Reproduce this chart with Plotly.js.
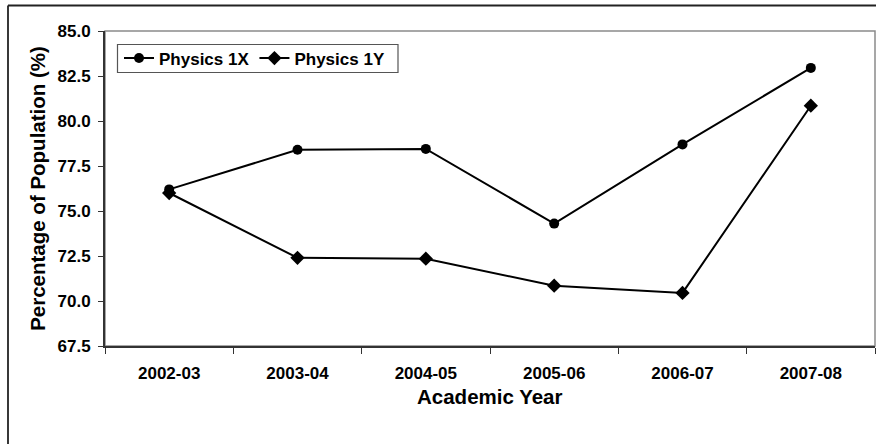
<!DOCTYPE html>
<html>
<head>
<meta charset="utf-8">
<script src="https://cdn.plot.ly/plotly-3.0.1.min.js"></script>
<style>
  html, body { margin: 0; padding: 0; background: #fff; }
  #chart { width: 876px; height: 444px; }
</style>
</head>
<body>
<div id="chart"></div>
<script>
const years = ["2002-03", "2003-04", "2004-05", "2005-06", "2006-07", "2007-08"];
const physics1X = [76.2, 78.4, 78.45, 74.3, 78.7, 82.95];
const physics1Y = [76.0, 72.4, 72.35, 70.85, 70.45, 80.85];
const yTickVals = [67.5, 70.0, 72.5, 75.0, 77.5, 80.0, 82.5, 85.0];
const xTitle = "Academic Year";
const yTitle = "Percentage of Population (%)";

const FONT = "Liberation Sans, Arial, Helvetica, sans-serif";
const W = 876, H = 444;
const M = { l: 105, r: 1, t: 31, b: 98 };
const pw = W - M.l - M.r, ph = H - M.t - M.b;
// helpers to convert pixel to paper
const px = x => (x - M.l) / pw;
const py = y => 1 - (y - M.t) / ph;

const traces = [
  {
    x: years, y: physics1X, name: "Physics 1X", type: "scatter", mode: "lines+markers",
    line: { color: "#000", width: 2 },
    marker: { symbol: "circle", size: 10, color: "#000" }
  },
  {
    x: years, y: physics1Y, name: "Physics 1Y", type: "scatter", mode: "lines+markers",
    line: { color: "#000", width: 2 },
    marker: { symbol: "diamond", size: 11, color: "#000" }
  }
];

const layout = {
  width: W, height: H,
  margin: M,
  paper_bgcolor: "#fff", plot_bgcolor: "#fff",
  font: { family: FONT, color: "#000", size: 17, weight: "bold" },
  showlegend: true,
  legend: {
    orientation: "h",
    x: px(119), y: py(58.5), xanchor: "left", yanchor: "middle",
    bgcolor: "rgba(0,0,0,0)", borderwidth: 0,
    font: { family: FONT, size: 17, weight: "bold", color: "#000" },
    itemwidth: 30, tracegroupgap: 0
  },
  xaxis: {
    type: "category", range: [-0.5, 5.5],
    showgrid: false, zeroline: false,
    showline: true, linecolor: "#333", linewidth: 2,
    ticks: "outside", tickson: "boundaries", ticklen: 6, tickcolor: "#333", tickwidth: 1,
    tickfont: { family: FONT, size: 17, weight: "bold", color: "#000" },
    ticklabelstandoff: 11,
    fixedrange: true
  },
  yaxis: {
    range: [67.5, 85], tickvals: yTickVals, tickformat: ".1f",
    showgrid: false, zeroline: false,
    showline: true, linecolor: "#333", linewidth: 2,
    ticks: "outside", ticklen: 5, tickcolor: "#333", tickwidth: 1,
    tickfont: { family: FONT, size: 17, weight: "bold", color: "#000" },
    ticklabelstandoff: 4,
    title: { text: yTitle, font: { family: FONT, size: 20.5, weight: "bold", color: "#000" }, standoff: 6 },
    fixedrange: true
  },
  annotations: [
    { text: xTitle, xref: "paper", yref: "paper", x: px(490), y: py(396),
      xanchor: "center", yanchor: "middle", showarrow: false,
      font: { family: FONT, size: 20.5, weight: "bold", color: "#000" } }
  ],
  shapes: [
    // plot area border (gray, top and right visible)
    { type: "rect", xref: "paper", yref: "paper", x0: 0, x1: 1, y0: 0, y1: 1,
      line: { color: "#8a8a8a", width: 1.5 }, layer: "below" },
    // legend frame
    { type: "rect", xref: "paper", yref: "paper", x0: px(117.5), x1: px(398), y0: py(72.5), y1: py(44.5),
      line: { color: "#555", width: 1.2 }, fillcolor: "#fff", layer: "above" },
    // outer chart frame (left and top visible, cropped at right/bottom)
    { type: "line", xref: "paper", yref: "paper", x0: px(8), x1: px(8), y0: py(5.5), y1: py(460),
      line: { color: "#222", width: 1.8 } },
    { type: "line", xref: "paper", yref: "paper", x0: px(8), x1: px(890), y0: py(5.5), y1: py(5.5),
      line: { color: "#222", width: 1.8 } }
  ],
  hovermode: false
};

Plotly.newPlot("chart", traces, layout, { displayModeBar: false, staticPlot: true });
</script>
</body>
</html>
